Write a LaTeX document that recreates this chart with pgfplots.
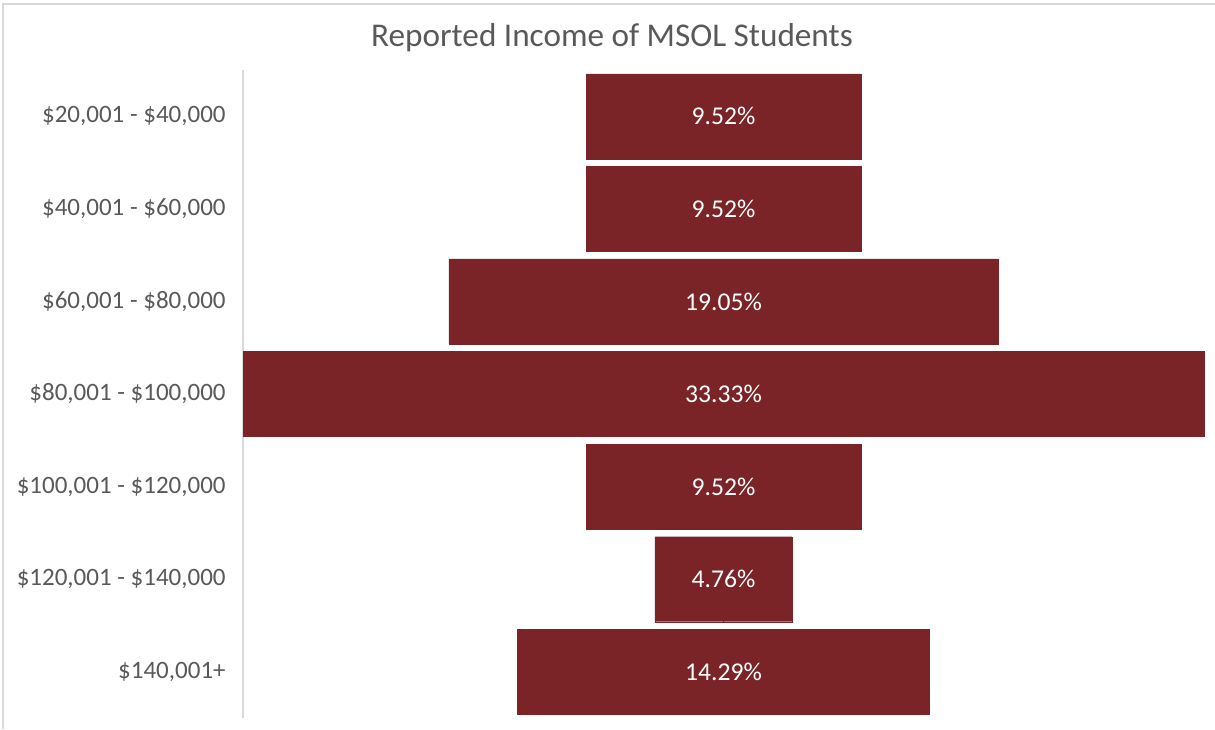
\documentclass[border=0pt]{standalone}
\usepackage{pgfplots}
\pgfplotsset{compat=1.18}
\usepackage{fontspec}
\setmainfont{Carlito}
\definecolor{barc}{HTML}{7A2428}
\definecolor{txt}{HTML}{595959}
\definecolor{ln}{HTML}{D9D9D9}
\begin{document}
\begin{tikzpicture}
\useasboundingbox (0,0) rectangle (607.5pt,364.5pt);
\draw[ln, line width=0.8pt] (1.5pt,0pt) -- (1.5pt,362.5pt) -- (607.5pt,362.5pt);
\node[text=txt, font=\fontsize{16.6}{19}\selectfont] at (306pt,345.5pt) {Reported Income of MSOL Students};
\begin{axis}[
  at={(121.5pt,5.5pt)}, anchor=south west,
  scale only axis, width=480.5pt, height=324pt,
  xmin=-16.665, xmax=16.665,
  ymin=-0.5, ymax=6.5, y dir=reverse,
  axis x line=none,
  axis y line=left,
  y axis line style={-, draw=ln, line width=0.8pt},
  ytick={0,1,2,3,4,5,6},
  yticklabels={{\$20,001 - \$40,000}, {\$40,001 - \$60,000}, {\$60,001 - \$80,000}, {\$80,001 - \$100,000}, {\$100,001 - \$120,000}, {\$120,001 - \$140,000}, {\$140,001+}},
  major tick length=0pt,
  yticklabel style={inner sep=0pt, anchor=east, xshift=-8.5pt, text=txt, font=\fontsize{12.5}{15}\selectfont},
  clip=false,
]
\addplot[xbar, bar shift=0pt, bar width=42.5pt, fill=barc, draw=barc, line width=0.1pt]
  coordinates {(4.76,0) (4.76,1) (9.525,2) (16.665,3) (4.76,4) (2.38,5) (7.145,6)};
\addplot[xbar, bar shift=0pt, bar width=42.5pt, fill=barc, draw=barc, line width=0.1pt]
  coordinates {(-4.76,0) (-4.76,1) (-9.525,2) (-16.665,3) (-4.76,4) (-2.38,5) (-7.145,6)};
\addplot[draw=none, mark=none, point meta=explicit symbolic,
  nodes near coords={\pgfplotspointmeta\%},
  every node near coord/.style={anchor=center, text=white, font=\fontsize{12.8}{15}\selectfont}]
  coordinates {(0,0) [9.52] (0,1) [9.52] (0,2) [19.05] (0,3) [33.33] (0,4) [9.52] (0,5) [4.76] (0,6) [14.29]};
\end{axis}
\end{tikzpicture}
\end{document}
